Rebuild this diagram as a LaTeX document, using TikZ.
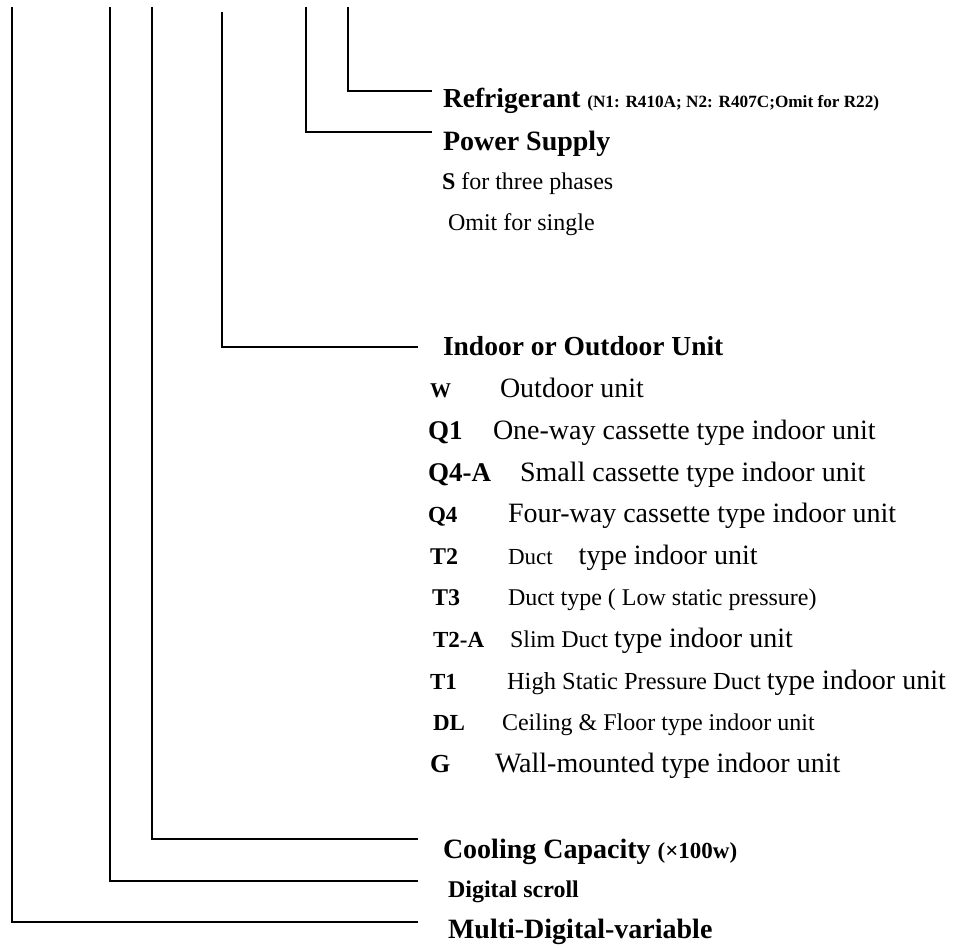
\documentclass[tikz,border=0pt]{standalone}
\usepackage{fontspec}
\setmainfont{Liberation Serif}
\definecolor{codeInk}{RGB}{0,0,0}

\begin{document}
\begin{tikzpicture}[x=0.5pt,y=0.5pt,inner sep=0pt,outer sep=0pt,
  bracket/.style={draw=codeInk,line width=0.8pt},
  field/.style={anchor=base west,text=codeInk}]
\useasboundingbox (0,0) rectangle (957,947);
% field headings
\node[field,font=\fontsize{13.75}{15}\selectfont\bfseries] (refr) at (443,839) {Refrigerant {\fontsize{8.6}{10}\selectfont (N1: R410A; N2: R407C;Omit for R22)}};
\node[field,font=\fontsize{14}{15}\selectfont\bfseries] (power) at (443,796) {Power Supply};
\node[field,font=\fontsize{12}{14}\selectfont] (pwrS) at (442,757) {\textbf{S} for three phases};
\node[field,font=\fontsize{12}{14}\selectfont] (pwrOmit) at (448,716) {Omit for single};
\node[field,font=\fontsize{13.75}{15}\selectfont\bfseries] (unit) at (443,591) {Indoor or Outdoor Unit};
% unit codes
\node[field,font=\fontsize{10.5}{12}\selectfont\bfseries] (cW) at (430,549) {W};
\node[field,font=\fontsize{14}{15}\selectfont] (dW) at (500,549) {Outdoor unit};
\node[field,font=\fontsize{13.5}{15}\selectfont\bfseries] (cQ1) at (428,507) {Q1};
\node[field,font=\fontsize{14}{15}\selectfont] (dQ1) at (493,507) {One-way cassette type indoor unit};
\node[field,font=\fontsize{13.5}{15}\selectfont\bfseries] (cQ4A) at (428,465) {Q4-A};
\node[field,font=\fontsize{14}{15}\selectfont] (dQ4A) at (520,465) {Small cassette type indoor unit};
\node[field,font=\fontsize{11.5}{13}\selectfont\bfseries] (cQ4) at (428,424) {Q4};
\node[field,font=\fontsize{14}{15}\selectfont] (dQ4) at (508,424) {Four-way cassette type indoor unit};
\node[field,font=\fontsize{12}{14}\selectfont\bfseries] (cT2) at (430,382) {T2};
\node[field,font=\fontsize{11.5}{13}\selectfont] (dT2) at (508,382) {Duct\hspace{13pt}{\fontsize{14}{15}\selectfont type indoor unit}};
\node[field,font=\fontsize{12}{14}\selectfont\bfseries] (cT3) at (432,341) {T3};
\node[field,font=\fontsize{12}{14}\selectfont] (dT3) at (508,341) {Duct type ( Low static pressure)};
\node[field,font=\fontsize{11.5}{13}\selectfont\bfseries] (cT2A) at (433,299) {T2-A};
\node[field,font=\fontsize{12}{14}\selectfont] (dT2A) at (510,299) {Slim Duct {\fontsize{14}{15}\selectfont type indoor unit}};
\node[field,font=\fontsize{11.5}{13}\selectfont\bfseries] (cT1) at (430,257) {T1};
\node[field,font=\fontsize{12.25}{14}\selectfont] (dT1) at (507,257) {High Static Pressure Duct {\fontsize{14}{15}\selectfont type indoor unit}};
\node[field,font=\fontsize{11.5}{13}\selectfont\bfseries] (cDL) at (433,216) {DL};
\node[field,font=\fontsize{12}{14}\selectfont] (dDL) at (502,216) {Ceiling \& Floor type indoor unit};
\node[field,font=\fontsize{13}{15}\selectfont\bfseries] (cG) at (430,174) {G};
\node[field,font=\fontsize{14}{15}\selectfont] (dG) at (495,174) {Wall-mounted type indoor unit};
% lower headings
\node[field,font=\fontsize{14}{15}\selectfont\bfseries] (cool) at (443,89) {Cooling Capacity {\fontsize{11.5}{13}\selectfont (\texttimes100w)}};
\node[field,font=\fontsize{12}{14}\selectfont\bfseries] (scroll) at (448,50) {Digital scroll};
\node[field,font=\fontsize{14}{15}\selectfont\bfseries] (mdv) at (448,9) {Multi-Digital-variable};
% bracket ends
\coordinate (mdvTop) at (12,940);
\coordinate (mdvEnd) at (418,25);
\coordinate (scrollTop) at (110,940);
\coordinate (scrollEnd) at (418,66);
\coordinate (coolTop) at (152,940);
\coordinate (coolEnd) at (418,108);
\coordinate (unitTop) at (222,935);
\coordinate (unitEnd) at (418,600);
\coordinate (powerTop) at (306,940);
\coordinate (powerEnd) at (432,815);
\coordinate (refrTop) at (348,940);
\coordinate (refrEnd) at (432,856);
\draw[bracket] (mdvTop) |- (mdvEnd);
\draw[bracket] (scrollTop) |- (scrollEnd);
\draw[bracket] (coolTop) |- (coolEnd);
\draw[bracket] (unitTop) |- (unitEnd);
\draw[bracket] (powerTop) |- (powerEnd);
\draw[bracket] (refrTop) |- (refrEnd);
\end{tikzpicture}
\end{document}
